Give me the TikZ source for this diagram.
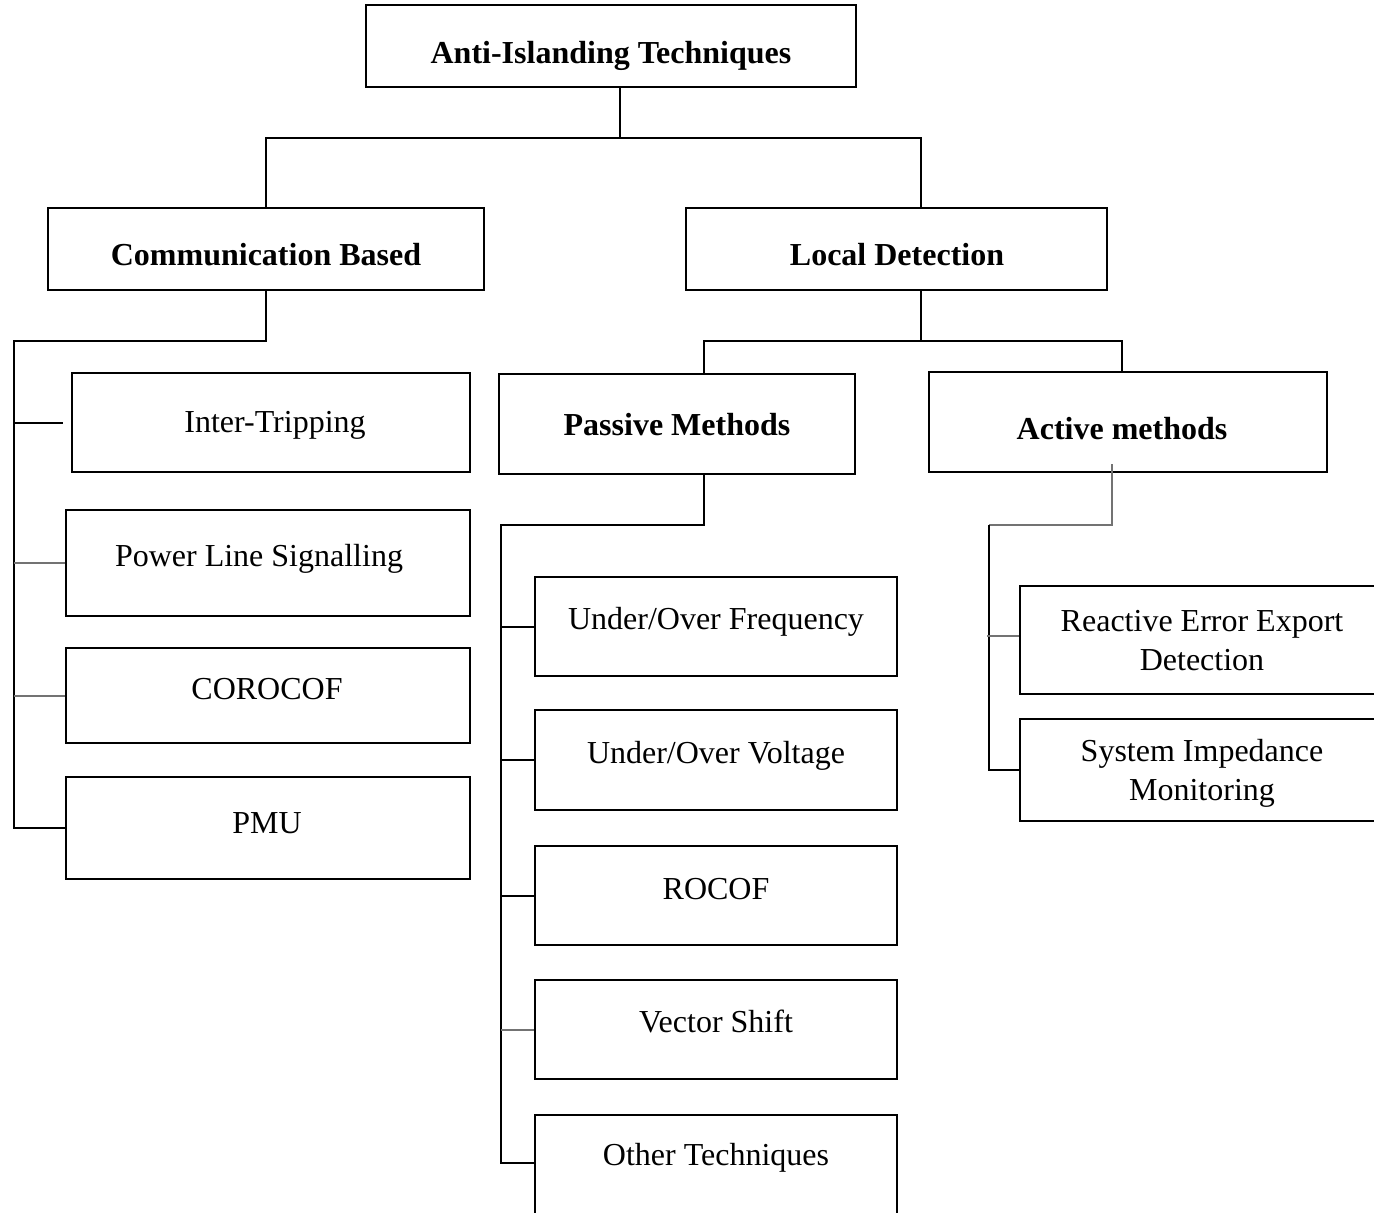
\documentclass[tikz,border=0pt]{standalone}
\usepackage{fontspec}
\setmainfont{Liberation Serif}
\begin{document}
\begin{tikzpicture}[x=0.5pt,y=-0.5pt,
  box/.style={draw,line width=1pt,rectangle,inner sep=0pt},
  lbl/.style={anchor=base,inner sep=0pt,font=\fontsize{16}{19.5}\selectfont},
  blbl/.style={lbl,font=\fontsize{16}{19.5}\selectfont\bfseries},
  conn/.style={line width=1pt},
  gconn/.style={line width=1pt,draw=black!55}]
\useasboundingbox (0,0) rectangle (1374,1212);
\clip (0,0) rectangle (1374,1212);
% boxes
\node[box,minimum width=245pt,minimum height=41pt] (top) at (611,46) {};
\node[box,minimum width=218pt,minimum height=41pt] (comm) at (266,249) {};
\node[box,minimum width=210.5pt,minimum height=41pt] (local) at (896.5,249) {};
\node[box,minimum width=199pt,minimum height=49.5pt] (inter) at (271,422.5) {};
\node[box,minimum width=202pt,minimum height=53pt] (pls) at (268,563) {};
\node[box,minimum width=202pt,minimum height=47.5pt] (coro) at (268,695.5) {};
\node[box,minimum width=202pt,minimum height=51pt] (pmu) at (268,828) {};
\node[box,minimum width=178pt,minimum height=50pt] (passive) at (677,424) {};
\node[box,minimum width=199pt,minimum height=50pt] (active) at (1128,422) {};
\node[box,minimum width=181pt,minimum height=49.5pt] (uof) at (716,626.5) {};
\node[box,minimum width=181pt,minimum height=50pt] (uov) at (716,760) {};
\node[box,minimum width=181pt,minimum height=49.5pt] (rocof) at (716,895.5) {};
\node[box,minimum width=181pt,minimum height=49.5pt] (vs) at (716,1029.5) {};
\node[box,minimum width=181pt,minimum height=62.5pt] (other) at (716,1177.5) {};
\node[box,minimum width=185pt,minimum height=54pt] (ree) at (1205,640) {};
\node[box,minimum width=185pt,minimum height=51pt] (sim) at (1205,770) {};
% texts
\node[blbl] (ttop) at (611,63) {Anti-Islanding Techniques};
\node[blbl] (tcomm) at (266,265) {Communication Based};
\node[blbl] (tlocal) at (897,265) {Local Detection};
\node[lbl] (tinter) at (275,432) {Inter-Tripping};
\node[lbl] (tpls) at (259,566) {Power Line Signalling};
\node[lbl] (tcoro) at (267,699) {COROCOF};
\node[lbl] (tpmu) at (267,833) {PMU};
\node[blbl] (tpassive) at (677,435) {Passive Methods};
\node[blbl] (tactive) at (1122,439) {Active methods};
\node[lbl] (tuof) at (716,629) {Under/Over Frequency};
\node[lbl] (tuov) at (716,763) {Under/Over Voltage};
\node[lbl] (trocof) at (716,899) {ROCOF};
\node[lbl] (tvs) at (716,1032) {Vector Shift};
\node[lbl] (tother) at (716,1165) {Other Techniques};
\node[lbl,align=center] (tree) at (1202,670) {Reactive Error Export\\Detection};
\node[lbl,align=center] (tsim) at (1202,800) {System Impedance\\Monitoring};
% connectors
\coordinate (j1) at (620,138);
\draw[conn] ([xshift=4.5pt]top.south) -- (j1);
\draw[conn] (j1) -| (comm.north);
\draw[conn] (j1) -| ([xshift=12.25pt]local.north);
\coordinate (cbus) at (14,341);
\draw[conn] (comm.south) |- (cbus) |- (pmu.west);
\draw[conn] (cbus |- inter.west) -- ([xshift=-4pt]inter.west);
\draw[gconn] (cbus |- pls.west) -- (pls.west);
\draw[gconn] (cbus |- coro.west) -- (coro.west);
\coordinate (j2) at (921,341);
\draw[conn] ([xshift=12.25pt]local.south) -- (j2);
\draw[conn] (j2) -| ([xshift=13.5pt]passive.north);
\draw[conn] (j2) -| ([xshift=-3pt]active.north);
\coordinate (pbus) at (501,525);
\draw[conn] ([xshift=13.5pt]passive.south) |- (pbus) |- ([yshift=7.25pt]other.west);
\draw[conn] (pbus |- uof.west) -- (uof.west);
\draw[conn] (pbus |- uov.west) -- (uov.west);
\draw[conn] (pbus |- rocof.west) -- (rocof.west);
\draw[gconn] (pbus |- vs.west) -- (vs.west);
\coordinate (abus) at (989,525);
\draw[gconn] ([xshift=-8pt,yshift=4.5pt]active.south) |- (abus);
\draw[conn] (abus) |- (sim.west);
\draw[gconn] ([xshift=-1pt,yshift=2pt]abus |- ree.west) -- ([yshift=2pt]ree.west);
\end{tikzpicture}
\end{document}
